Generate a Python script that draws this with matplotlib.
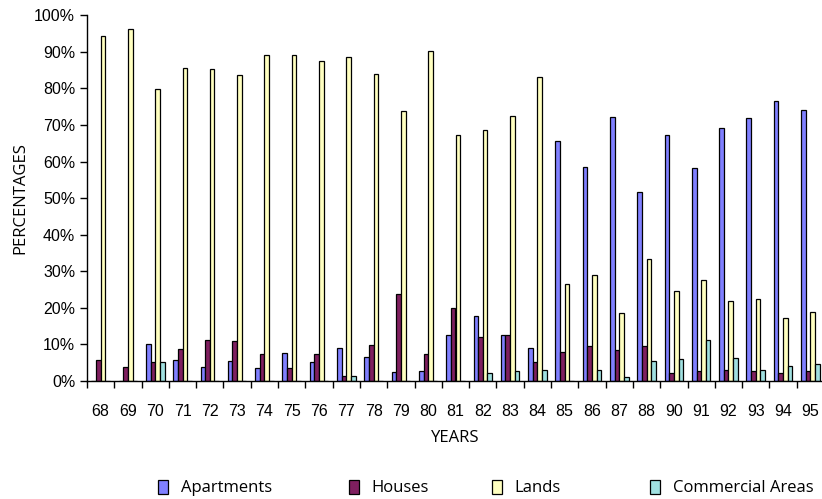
import numpy as np
import matplotlib
matplotlib.use("Agg")
import matplotlib.pyplot as plt
from matplotlib.ticker import PercentFormatter

# years on the x axis (89 is missing in the source)
years = ["68", "69", "70", "71", "72", "73", "74", "75", "76", "77", "78", "79", "80",
         "81", "82", "83", "84", "85", "86", "87", "88", "90", "91", "92", "93", "94", "95"]

# percentages
apartments = [0, 0, 10.0, 5.8, 3.8, 5.5, 3.6, 7.7, 5.3, 9.1, 6.6, 2.4, 2.6,
              12.6, 17.7, 12.6, 9.1, 65.6, 58.5, 72.1, 51.8, 67.4, 58.3, 69.2, 71.9, 76.7, 74.1]
houses = [5.8, 3.8, 5.1, 8.75, 11.1, 10.9, 7.3, 3.5, 7.3, 1.3, 9.8, 23.9, 7.3,
          20.0, 11.9, 12.6, 5.1, 7.8, 9.7, 8.4, 9.5, 2.2, 2.6, 2.9, 2.7, 2.2, 2.7]
lands = [94.3, 96.3, 79.9, 85.6, 85.4, 83.8, 89.2, 89.2, 87.4, 88.5, 84.0, 73.8, 90.2,
         67.3, 68.5, 72.6, 83.1, 26.5, 28.9, 18.5, 33.3, 24.5, 27.6, 22.0, 22.5, 17.2, 18.8]
commercial = [0, 0, 5.1, 0, 0, 0, 0, 0, 0, 1.3, 0, 0, 0,
              0, 2.2, 2.6, 3.1, 0, 2.9, 1.1, 5.5, 6.0, 11.3, 6.2, 3.1, 4.0, 4.7]

series = [("Apartments", apartments, "#8080ff"),
          ("Houses", houses, "#7f1f5f"),
          ("Lands", lands, "#ffffc0"),
          ("Commercial Areas", commercial, "#a0e0e0")]

W, H = 822, 499
fig = plt.figure(figsize=(W / 100, H / 100), dpi=100)
ax = fig.add_axes([87 / W, 118 / H, (824 - 87) / W, (381 - 15.3) / H])

x = np.arange(len(years))
bw = 0.17
bars = []
for i, (name, vals, col) in enumerate(series):
    b = ax.bar(x + (i - 1.5) * bw, vals, width=bw, color=col, edgecolor="black",
               linewidth=0.9, label=name)
    bars.append(b)

ax.set_xlim(-0.5, len(years) - 0.5)
ax.set_ylim(0, 100)
ax.yaxis.set_major_formatter(PercentFormatter(decimals=0))
ax.set_yticks(np.arange(0, 101, 10))

# ticks between categories, labels at centres
ax.set_xticks(np.arange(-0.5, len(years), 1))
ax.set_xticklabels([])
ax.set_xticks(x, minor=True)
ax.set_xticklabels(years, minor=True, fontsize=11.5, fontfamily="Liberation Sans")
ax.tick_params(axis="x", which="minor", length=0, pad=16.5)
ax.tick_params(axis="x", which="major", length=5, width=1, direction="out")
ax.tick_params(axis="y", length=5, width=1, direction="out", labelsize=11.5)
for lab in ax.get_yticklabels():
    lab.set_fontfamily("Liberation Sans")

for s in ["top", "right"]:
    ax.spines[s].set_visible(False)
ax.spines["left"].set_linewidth(1)
ax.spines["bottom"].set_linewidth(1)

ax.set_xlabel("YEARS", fontsize=12, fontfamily="Open Sans", labelpad=8)
ax.set_ylabel("PERCENTAGES", fontsize=12, fontfamily="Open Sans", labelpad=4)

# legend entries placed one by one, as in the reference
anchor_x = [157.5, 348.5, 491.5, 649.5]
for b, (name, _, _), ax_ in zip(bars, series, anchor_x):
    fig.legend(handles=[b], labels=[name], loc="center left",
               bbox_to_anchor=(ax_ / W, 1 - 488 / H), frameon=False,
               handlelength=0.6, handleheight=0.9, handletextpad=0.8,
               borderpad=0, borderaxespad=0,
               prop={"family": "Open Sans", "size": 12})

fig.savefig("out.png", dpi=100)
